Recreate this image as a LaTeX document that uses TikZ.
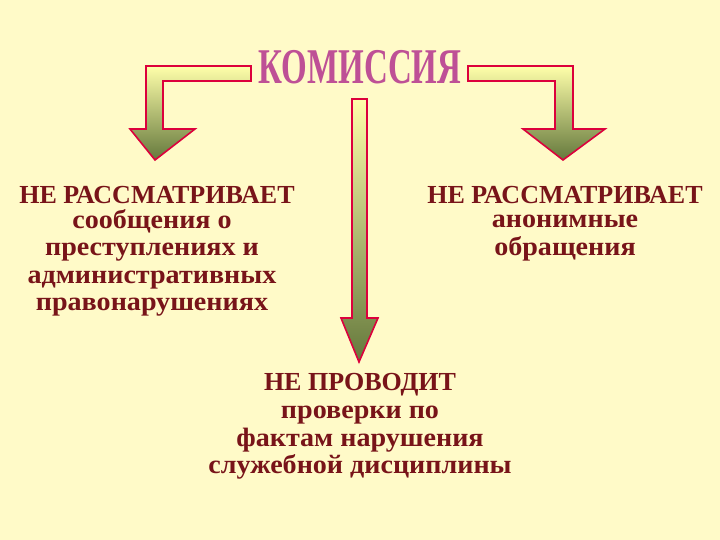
\documentclass[tikz,border=0pt]{standalone}
\usepackage{fontspec}
\setmainfont{Liberation Serif}
\begin{document}
\begin{tikzpicture}[x=1pt,y=-1pt,
 arr/.style={draw={rgb,255:red,220;green,0;blue,60},line width=1.6pt,line join=miter,top color={rgb,255:red,255;green,255;blue,170},bottom color={rgb,255:red,100;green,120;blue,60}},
 txt/.style={font=\bfseries\fontsize{26}{27}\selectfont,text={rgb,255:red,120;green,20;blue,25},inner sep=0pt,align=center},
 body/.style={txt,font=\bfseries\fontsize{26.5}{27.5}\selectfont,xscale=1.06}]
\fill[fill={rgb,255:red,255;green,250;blue,200}] (0,0) rectangle (720,540);
\path[use as bounding box] (0,0) rectangle (720,540);
% left arrow
\path[arr] (251,66) -- (146,66) -- (146,129) -- (130,129) -- (155,160) -- (195,129) -- (163,129) -- (163,81) -- (251,81) -- cycle;
% right arrow
\path[arr] (468,66) -- (573,66) -- (573,129) -- (605,129) -- (563,160) -- (523,129) -- (555,129) -- (555,81) -- (468,81) -- cycle;
% center arrow
\path[arr] (352,99) -- (367,99) -- (367,318) -- (378,318) -- (359,362) -- (341,318) -- (352,318) -- cycle;
\node[inner sep=0pt,font=\bfseries\fontsize{50}{50}\selectfont,text={rgb,255:red,190;green,80;blue,150},xscale=0.66] (title) at (360,67) {КОМИССИЯ};
\node[txt] (l1) at (157,195) {НЕ РАССМАТРИВАЕТ};
\node[body] (l2) at (152,263) {сообщения о\\преступлениях и\\административных\\правонарушениях};
\node[txt] (r1) at (565,195) {НЕ РАССМАТРИВАЕТ};
\node[body] (r2) at (565,238) {анонимные\\обращения};
\node[txt] (c1) at (360,385) {НЕ ПРОВОДИТ};
\node[body] (c2) at (360,443) {проверки по\\фактам нарушения\\служебной дисциплины};
\end{tikzpicture}
\end{document}
